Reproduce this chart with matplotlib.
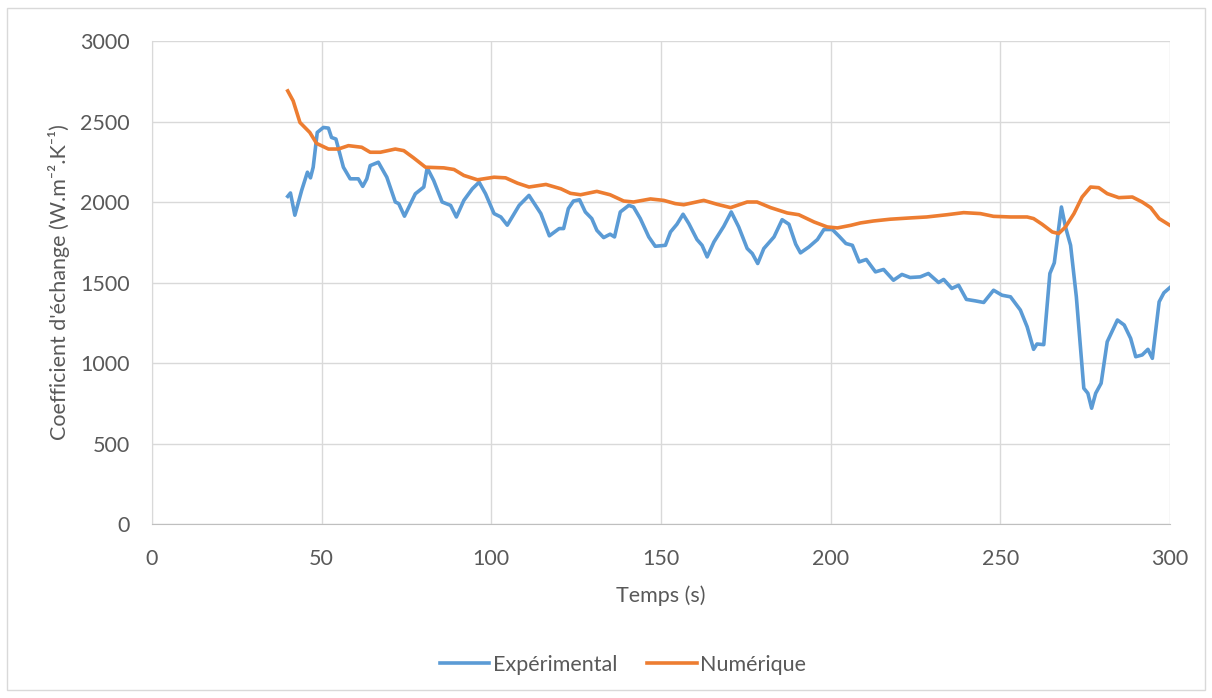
import matplotlib
matplotlib.use("Agg")
import matplotlib.pyplot as plt
from matplotlib.patches import Rectangle

t_exp = [40, 40.8, 42.1, 44.1, 45.8, 46.7, 47.5, 48.7, 50.5, 52, 52.9, 54.2, 56.4, 58.4, 60.8, 62.1, 63.3,
         64.3, 66.7, 69.2, 71.7, 72.7, 74.4, 77.6, 80.1, 81.1, 83, 85.5, 88, 89.7, 91.9, 94.4, 96.4, 98.3,
         100.8, 102.8, 104.7, 108.2, 111.1, 114.6, 117.1, 120, 121.3, 122.7, 124.2, 126, 127.7, 129.6,
         131.1, 133.1, 135, 136.3, 138, 140.5, 141.9, 143.9, 146.4, 148.3, 151.3, 152.8, 154.7, 156.5,
         158.2, 160.6, 162.1, 163.6, 165.6, 168.5, 170.7, 172.9, 175.4, 176.9, 178.5, 180.3, 183.3, 185.7,
         187.7, 189.7, 191.1, 193.6, 196.1, 198, 200.5, 202.5, 204.5, 206.4, 208.4, 210.5, 213.2, 215.6,
         218.5, 221, 223.4, 226.4, 228.8, 231.8, 233.3, 235.7, 237.7, 240, 242.6, 245.1, 248, 250.5, 253,
         255.9, 257.9, 259.8, 260.8, 262.8, 264.6, 265.9, 268, 269.2, 270.7, 272.4, 274.6, 275.8, 276.9,
         278.1, 279.7, 281.5, 284.5, 286.5, 288.4, 289.9, 291.8, 293.5, 294.8, 296.8, 298.2, 300]
h_exp = [2035, 2056, 1918, 2072, 2185, 2150, 2216, 2432, 2463, 2459, 2401, 2391, 2216, 2144, 2144, 2097, 2144,
         2226, 2247, 2154, 2000, 1990, 1912, 2051, 2093, 2212, 2134, 2000, 1979, 1907, 2010, 2082, 2123, 2051,
         1928, 1907, 1856, 1979, 2041, 1928, 1790, 1835, 1835, 1959, 2006, 2014, 1938, 1897,
         1824, 1779, 1800, 1783, 1938, 1979, 1969, 1897, 1783, 1725, 1731, 1814, 1862, 1924,
         1866, 1767, 1731, 1659, 1752, 1849, 1938, 1845, 1711, 1680, 1618, 1711, 1783, 1890,
         1862, 1738, 1684, 1721, 1767, 1829, 1829, 1787, 1742, 1731, 1628, 1643, 1566, 1581,
         1514, 1550, 1531, 1535, 1556, 1500, 1519, 1463, 1483, 1395, 1386, 1376, 1452, 1421, 1411,
         1329, 1225, 1085, 1118, 1114, 1556, 1622, 1969, 1845, 1731, 1411, 843, 812, 719,
         812, 874, 1132, 1267, 1236, 1153, 1039, 1050, 1085, 1029, 1380, 1436, 1469]

t_num = [40, 41.6, 43.6, 46.5, 48.5, 52, 54.9, 57.9, 61.8, 64.3, 67.3, 71.7, 74.2, 77.1, 80.6, 86, 89, 91.9,
         95.9, 100.8, 104.2, 107.7, 111.1, 116.1, 120.5, 123.3, 126.3, 131.1, 135, 139, 141.9, 146.9, 150.8,
         154.2, 156.7, 162.6, 166.5, 170.5, 175.4, 178.3, 182.3, 187.2, 190.6, 195.1, 199, 202, 205.9, 208.8,
         212.6, 217.5, 223.4, 228.3, 234.3, 239.2, 244.1, 248, 253, 257.9, 259.8, 262.3, 265.3, 267.2, 269.2,
         271.7, 274.1, 276.6, 279, 281.5, 284.9, 288.9, 291.8, 294.3, 296.8, 300]
h_num = [2690, 2628, 2494, 2432, 2364, 2329, 2329, 2350, 2340, 2309, 2309, 2329, 2319, 2274, 2216, 2212, 2202, 2165,
         2138, 2154, 2150, 2117, 2093, 2109, 2082, 2054, 2045, 2066, 2045, 2006, 2000, 2019, 2010,
         1990, 1983, 2010, 1986, 1965, 2000, 2000, 1965, 1932, 1921, 1876, 1845, 1839, 1855, 1870,
         1882, 1893, 1901, 1907, 1921, 1934, 1928, 1911, 1907, 1907, 1897, 1862, 1814, 1804, 1845,
         1928, 2031, 2093, 2089, 2052, 2027, 2031, 2000, 1965, 1897, 1855]

x_ticks = [0, 50, 100, 150, 200, 250, 300]
y_ticks = [0, 500, 1000, 1500, 2000, 2500, 3000]
series_names = ["Expérimental", "Numérique"]

plt.rcParams['font.family'] = ['Lato', 'DejaVu Sans']
txt = '#595959'
grid = '#d9d9d9'
fs = 15.5

fig = plt.figure(figsize=(12.12, 6.98), dpi=100)
fig.patches.append(Rectangle((7/1212, 8/698), 1198/1212, 682/698, transform=fig.transFigure,
                             fill=False, edgecolor='#d9d9d9', linewidth=1.0))
ax = fig.add_axes([152/1212, 1 - 524/698, (1170-152)/1212, (524-41)/698])

ax.plot(t_exp, h_exp, color='#5b9bd5', lw=2.6, label=series_names[0], solid_joinstyle='round')
ax.plot(t_num, h_num, color='#ed7d31', lw=2.6, label=series_names[1], solid_joinstyle='round')

ax.set_xlim(0, 300)
ax.set_ylim(0, 3000)
ax.set_xticks(x_ticks)
ax.set_yticks(y_ticks)
ax.grid(True, color=grid, lw=1.0)
ax.set_axisbelow(True)
for s in ['top', 'right']:
    ax.spines[s].set_visible(False)
ax.spines['left'].set_color(grid)
ax.spines['bottom'].set_color('#bfbfbf')
ax.tick_params(length=0, labelsize=fs, colors=txt)
ax.tick_params(axis='y', pad=16)
ax.tick_params(axis='x', pad=18)
ax.set_xlabel('Temps (s)', fontsize=fs, color=txt, labelpad=12)
ax.set_ylabel("Coefficient d'échange (W.m\u207b\u00b2.K\u207b\u00b9)",
              fontsize=fs, color=txt, labelpad=7)

fig.legend(loc='center', bbox_to_anchor=(0.514, 1 - 665/698), ncol=2, frameon=False,
           fontsize=fs, labelcolor=txt, handlelength=2.3, handletextpad=0.15, columnspacing=1.4)

fig.savefig('out.png', dpi=100)
